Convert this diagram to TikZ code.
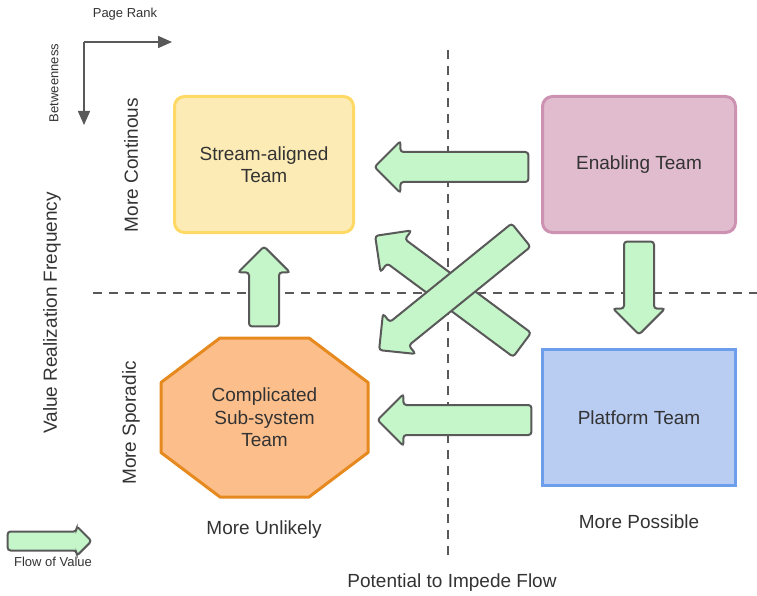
\documentclass[tikz,border=0pt]{standalone}
\usepackage{fontspec}
\setmainfont{Liberation Sans}
\usetikzlibrary{arrows.meta,positioning,calc,shapes.arrows,backgrounds}
\definecolor{txt}{RGB}{51,51,51}
\definecolor{ln}{RGB}{89,89,89}
\definecolor{sac}{RGB}{253,235,181}
\definecolor{sad}{RGB}{255,217,102}
\definecolor{enc}{RGB}{224,188,206}
\definecolor{end}{RGB}{205,146,178}
\definecolor{pfc}{RGB}{185,204,242}
\definecolor{pfd}{RGB}{109,158,235}
\definecolor{csc}{RGB}{252,191,140}
\definecolor{csd}{RGB}{230,137,30}
\definecolor{fv}{RGB}{196,246,201}
\tikzset{team/.style={draw,line width=3pt,align=center,inner sep=0pt},
 oct/.style={draw=csd,fill=csc,line width=3pt,line join=round},
 flow/.style={single arrow,draw=ln,fill=fv,line width=2pt,rounded corners=3pt,inner xsep=0pt,inner ysep=14pt,
  single arrow head extend=11pt,sloped,allow upside down,pos=1,anchor=tip},
 cut/.style={draw=ln,line width=2pt,dash pattern=on 9pt off 7pt},
 ax/.style={draw=ln,line width=1.5pt,-{Triangle[length=14pt,width=12pt]}},
 small/.style={font=\fontsize{13}{15}\selectfont},
 every node/.style={font=\fontsize{19}{22.5}\selectfont,text=txt}}
\begin{document}
\begin{tikzpicture}[x=1pt,y=-1pt]
\useasboundingbox (0,0) rectangle (757,596);
% quadrant lines
\coordinate (vt) at (448,50); \coordinate (vb) at (448,557);
\coordinate (hl) at (93,293); \coordinate (hr) at (757,293);
\draw[cut] (vt) -- (vb);
\draw[cut] (hl) -- (hr);
% teams
\node[team,fill=sac,draw=sad,rounded corners=10pt,minimum width=179pt,minimum height=136pt] (sa) at (264,164.5) {Stream-aligned\\Team};
\node[team,fill=enc,draw=end,rounded corners=10pt,minimum width=193pt,minimum height=136pt] (en) at (639,164.5) {Enabling Team};
\node[team,fill=pfc,draw=pfd,minimum width=193pt,minimum height=136pt] (pf) at (639,417.5) {Platform Team};
\node[team,draw=none,minimum width=204pt,minimum height=156pt] (cs) at (264.5,417.5) {Complicated\\Sub-system\\Team};
\begin{scope}[on background layer]
\draw[oct] ($(cs.north west)+(59,0)$) -- ($(cs.north east)+(-59,0)$) -- ($(cs.north east)+(0,44.5)$)
 -- ($(cs.south east)+(0,-44.5)$) -- ($(cs.south east)+(-59,0)$) -- ($(cs.south west)+(59,0)$)
 -- ($(cs.south west)+(0,-44.5)$) -- ($(cs.north west)+(0,44.5)$) -- cycle;
\end{scope}
% flow arrows
\coordinate (e1t) at (527,167); \coordinate (e1h) at (373,167);
\coordinate (e2t) at (639,243); \coordinate (e2h) at (639,336);
\coordinate (e3t) at (530,420); \coordinate (e3h) at (376,420);
\coordinate (e4t) at (264,325); \coordinate (e4h) at (264,245);
\coordinate (e5t) at (521,344); \coordinate (e5h) at (374,235);
\coordinate (e6t) at (520,236); \coordinate (e6h) at (378,351);
\foreach \a/\b in {e1t/e1h,e2t/e2h,e3t/e3h,e4t/e4h,e5t/e5h,e6t/e6h}{
 \path let \p1=($(\b)-(\a)$),\n1={veclen(\x1,\y1)} in (\a) -- node[flow,minimum height=\n1]{} (\b);}
% axes
\coordinate (o) at (84,42); \coordinate (pr) at (172,42); \coordinate (bw) at (84,125);
\draw[ax] (o) -- (pr);
\draw[ax] (o) -- (bw);
\node[small] (prl) at (125,14) {Page Rank};
\node[small,rotate=90] (bwl) at (54,83) {Betweenness};
% labels
\node[rotate=90] (mc) at (131,165) {More Continous};
\node[rotate=90] (ms) at (131,423) {More Sporadic};
\node[rotate=90] (vrf) at (52,313) {Value Realization Frequency};
\node (mu) at (264,530) {More Unlikely};
\node (mp) at (639,522) {More Possible};
\node (pif) at (452,583) {Potential to Impede Flow};
% legend
\coordinate (lt) at (9,541); \coordinate (lh) at (93,541);
\path let \p1=($(lh)-(lt)$),\n1={veclen(\x1,\y1)} in (lt) -- node[flow,minimum height=\n1,inner ysep=8.5pt,single arrow head extend=5.5pt]{} (lh);
\node[small] (fov) at (53,562) {Flow of Value};
\end{tikzpicture}
\end{document}
